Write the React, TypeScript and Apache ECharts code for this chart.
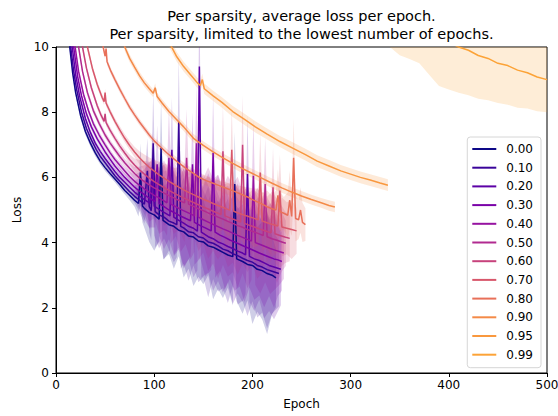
import React, { useEffect, useRef } from "react";
import * as echarts from "echarts";

// ---------- data ----------
const sparsities = ["0.00", "0.10", "0.20", "0.30", "0.40", "0.50", "0.60", "0.70", "0.80", "0.90", "0.95", "0.99"];
const colors = ["#0d0887", "#3a049a", "#5c01a6", "#7a02a8", "#9613a1", "#b12a90", "#c7427c", "#d8576b", "#e87059", "#f48a47", "#f9983e", "#fca337"];

// each row: [epoch, mean loss, std]
const s000 = [[12, 11, 0.1], [14, 10, 0.1], [17, 9.2, 0.1], [20, 8.6, 0.1], [25, 7.9, 0.1], [30, 7.4, 0.1], [35, 7.05, 0.1], [40, 6.75, 0.1], [45, 6.5, 0.1], [50, 6.3, 0.1], [55, 6.12, 0.1], [60, 5.95, 0.1], [65, 5.78, 0.12], [70, 5.6, 0.12], [75, 5.45, 0.15], [80, 5.3, 0.2], [84, 5.2, 0.4], [86, 6.15, 0.9], [88, 5.12, 0.5], [90, 5.05, 0.6], [95, 4.92, 0.9], [100, 4.85, 1.1], [105, 4.72, 0.7], [107, 6.9, 1.5], [109, 4.68, 1.2], [115, 4.55, 0.9], [120, 4.5, 1.3], [125, 4.38, 0.8], [130, 4.33, 1.4], [135, 4.2, 1.0], [140, 4.17, 1.5], [145, 4.05, 1.1], [150, 4.02, 1.3], [155, 3.9, 0.9], [160, 3.86, 1.6], [165, 3.78, 1.2], [170, 3.7, 1.4], [175, 3.62, 1.0], [180, 3.57, 1.5], [182, 5.8, 1.6], [184, 3.5, 1.3], [190, 3.42, 1.6], [195, 3.33, 1.1], [200, 3.3, 1.8], [205, 3.18, 1.3], [210, 3.14, 1.5], [215, 3.05, 1.85], [220, 3.0, 1.2], [224, 2.92, 0.9]];
const s010 = [[13, 11, 0.1], [15, 10, 0.1], [18, 9.25, 0.1], [21, 8.7, 0.1], [26, 8.0, 0.1], [31, 7.5, 0.1], [36, 7.15, 0.1], [41, 6.85, 0.1], [45, 6.65, 0.1], [50, 6.45, 0.1], [55, 6.25, 0.1], [60, 6.05, 0.1], [65, 5.88, 0.12], [70, 5.72, 0.12], [75, 5.56, 0.15], [80, 5.42, 0.2], [85, 5.3, 0.35], [90, 5.18, 0.6], [93, 6.2, 1.0], [95, 5.1, 0.8], [97, 4.98, 0.9], [99, 7.05, 1.6], [101, 4.95, 1.1], [105, 4.85, 0.8], [110, 4.78, 1.3], [115, 4.66, 0.9], [120, 4.6, 1.2], [123, 4.55, 1.0], [125, 7.7, 2.0], [127, 4.5, 1.3], [130, 4.45, 1.1], [135, 4.33, 1.5], [140, 4.3, 1.0], [145, 4.18, 1.4], [150, 4.14, 1.2], [155, 4.02, 1.7], [160, 3.98, 1.1], [165, 3.9, 1.4], [170, 3.8, 1.2], [175, 3.75, 1.6], [180, 3.66, 1.0], [185, 3.6, 1.5], [190, 3.52, 1.3], [195, 3.45, 1.7], [200, 3.4, 1.2], [205, 3.3, 1.6], [210, 3.25, 1.4], [215, 3.17, 1.8], [220, 3.12, 1.3], [227, 3.05, 1.0]];
const s020 = [[14, 11, 0.1], [16.5, 10, 0.1], [20, 9.15, 0.1], [24, 8.5, 0.1], [30, 7.8, 0.1], [35, 7.38, 0.1], [40, 7.05, 0.1], [45, 6.8, 0.1], [50, 6.58, 0.1], [55, 6.38, 0.1], [60, 6.18, 0.1], [65, 6.0, 0.12], [70, 5.85, 0.12], [75, 5.7, 0.15], [80, 5.55, 0.2], [85, 5.43, 0.4], [90, 5.32, 0.6], [96, 5.2, 0.8], [98, 6.3, 1.1], [100, 5.12, 0.9], [105, 5.02, 1.2], [110, 4.93, 0.8], [116, 4.82, 1.1], [118, 6.85, 1.6], [120, 4.78, 1.2], [125, 4.68, 0.9], [130, 4.6, 1.4], [135, 4.5, 1.0], [140, 4.44, 1.5], [144, 4.35, 1.2], [146, 9.4, 2.4], [148, 4.32, 1.4], [155, 4.18, 1.1], [160, 4.12, 1.6], [165, 4.02, 1.2], [170, 3.96, 1.5], [175, 3.88, 1.1], [180, 3.82, 1.7], [185, 3.74, 1.3], [190, 3.68, 1.5], [193, 3.62, 1.2], [195, 6.1, 1.8], [197, 3.58, 1.4], [202, 3.5, 1.6], [207, 3.45, 1.2], [212, 3.38, 1.7], [217, 3.3, 1.4], [222, 3.25, 1.6], [229, 3.18, 1.1]];
const s030 = [[15, 11, 0.1], [18, 10, 0.1], [22, 9.1, 0.1], [26, 8.5, 0.1], [31, 7.95, 0.1], [36, 7.55, 0.1], [42, 7.18, 0.1], [46, 6.98, 0.1], [50, 6.78, 0.1], [55, 6.56, 0.1], [60, 6.35, 0.1], [65, 6.17, 0.12], [70, 6.0, 0.12], [75, 5.85, 0.15], [80, 5.7, 0.2], [85, 5.58, 0.4], [90, 5.47, 0.6], [95, 5.36, 0.9], [101, 5.26, 0.8], [103, 6.4, 1.2], [105, 5.2, 1.0], [110, 5.1, 1.3], [115, 5.0, 0.9], [120, 4.93, 1.3], [125, 4.84, 1.0], [130, 4.77, 1.5], [137, 4.67, 1.1], [139, 6.4, 1.6], [141, 4.62, 1.3], [147, 4.52, 1.0], [152, 4.45, 1.5], [158, 4.36, 1.2], [160, 6.75, 1.8], [162, 4.32, 1.4], [167, 4.23, 1.1], [172, 4.16, 1.6], [177, 4.08, 1.2], [182, 4.02, 1.5], [187, 3.95, 1.3], [192, 3.88, 1.7], [197, 3.82, 1.2], [202, 3.75, 1.5], [207, 3.68, 1.3], [212, 3.62, 1.6], [217, 3.56, 1.2], [222, 3.5, 1.5], [226, 3.47, 1.1], [230, 3.42, 0.9]];
const s040 = [[16, 11, 0.1], [19.5, 10, 0.1], [23, 9.25, 0.1], [28, 8.55, 0.1], [33, 8.05, 0.1], [38, 7.65, 0.1], [44, 7.3, 0.1], [50, 7.0, 0.1], [55, 6.76, 0.1], [60, 6.55, 0.1], [65, 6.37, 0.12], [70, 6.2, 0.12], [75, 6.03, 0.15], [80, 5.88, 0.2], [85, 5.76, 0.4], [90, 5.65, 0.6], [95, 5.55, 0.9], [100, 5.45, 0.7], [105, 5.37, 1.1], [110, 5.28, 0.9], [113, 5.22, 1.0], [115, 6.6, 1.5], [117, 5.18, 1.2], [122, 5.1, 0.9], [127, 5.02, 1.3], [132, 4.95, 1.0], [137, 4.88, 1.4], [141, 4.82, 1.1], [143, 7.05, 1.8], [145, 4.78, 1.3], [150, 4.7, 1.0], [155, 4.63, 1.5], [160, 4.56, 1.2], [165, 4.49, 1.6], [170, 4.42, 1.1], [175, 4.36, 1.4], [180, 4.29, 1.2], [185, 4.22, 1.6], [190, 4.16, 1.1], [195, 4.1, 1.5], [199, 4.05, 1.2], [201, 6.05, 1.7], [203, 4.0, 1.3], [208, 3.94, 1.5], [213, 3.88, 1.1], [218, 3.82, 1.4], [223, 3.77, 1.2], [228, 3.72, 1.0], [232, 3.68, 0.8]];
const s050 = [[19, 11, 0.1], [23, 10, 0.1], [27, 9.25, 0.1], [32, 8.6, 0.1], [38, 8.05, 0.1], [44, 7.65, 0.1], [50, 7.3, 0.1], [55, 7.06, 0.1], [60, 6.85, 0.1], [65, 6.64, 0.12], [70, 6.45, 0.12], [75, 6.28, 0.15], [80, 6.12, 0.2], [85, 5.98, 0.35], [90, 5.87, 0.5], [95, 5.77, 0.7], [100, 5.68, 0.9], [105, 5.6, 0.7], [110, 5.52, 1.0], [115, 5.44, 0.8], [120, 5.37, 1.1], [125, 5.3, 0.9], [131, 5.22, 1.2], [133, 6.6, 1.5], [135, 5.18, 1.1], [140, 5.11, 0.9], [145, 5.04, 1.3], [150, 4.98, 1.0], [155, 4.91, 1.4], [160, 4.85, 1.1], [165, 4.78, 1.3], [170, 4.72, 1.0], [175, 4.65, 1.4], [180, 4.59, 1.2], [185, 4.52, 1.5], [190, 4.47, 1.1], [195, 4.4, 1.3], [200, 4.35, 1.0], [205, 4.29, 1.4], [211, 4.22, 1.1], [213, 5.8, 1.4], [215, 4.18, 1.2], [220, 4.12, 1.0], [225, 4.07, 1.3], [230, 4.02, 0.9], [234, 3.98, 0.7]];
const s060 = [[22, 11, 0.1], [27, 10, 0.1], [31, 9.35, 0.1], [36, 8.75, 0.1], [42, 8.2, 0.1], [46, 7.9, 0.1], [49, 7.72, 0.1], [50, 7.95, 0.12], [51, 7.68, 0.1], [55, 7.45, 0.1], [60, 7.2, 0.1], [65, 6.96, 0.12], [70, 6.75, 0.12], [75, 6.55, 0.15], [80, 6.38, 0.2], [85, 6.23, 0.3], [90, 6.1, 0.4], [95, 5.98, 0.5], [100, 5.87, 0.6], [105, 5.78, 0.5], [110, 5.69, 0.7], [115, 5.6, 0.6], [120, 5.52, 0.8], [125, 5.44, 0.6], [130, 5.37, 0.9], [135, 5.3, 0.7], [140, 5.23, 0.9], [145, 5.16, 0.7], [150, 5.09, 1.0], [155, 5.03, 0.8], [160, 4.96, 1.0], [165, 4.9, 0.8], [168, 4.86, 0.9], [170, 6.8, 1.4], [172, 4.82, 1.0], [177, 4.76, 0.8], [182, 4.7, 1.1], [188, 4.63, 0.9], [190, 7.0, 1.5], [192, 4.59, 1.0], [197, 4.53, 0.8], [202, 4.48, 1.1], [207, 4.42, 0.9], [212, 4.37, 1.1], [217, 4.32, 0.8], [219, 4.3, 0.9], [221, 5.7, 1.2], [223, 4.27, 0.9], [228, 4.22, 1.0], [233, 4.17, 0.8], [238, 4.13, 0.7]];
const s070 = [[27, 11, 0.1], [32, 10, 0.1], [37, 9.35, 0.1], [42, 8.85, 0.1], [47, 8.45, 0.1], [49, 8.32, 0.1], [50, 8.6, 0.12], [51, 8.28, 0.1], [55, 8.02, 0.1], [60, 7.72, 0.1], [65, 7.45, 0.12], [70, 7.2, 0.12], [75, 6.98, 0.14], [80, 6.78, 0.16], [85, 6.6, 0.2], [90, 6.45, 0.25], [95, 6.31, 0.3], [100, 6.19, 0.35], [105, 6.08, 0.4], [110, 5.98, 0.45], [115, 5.88, 0.5], [120, 5.79, 0.5], [125, 5.7, 0.6], [130, 5.62, 0.55], [135, 5.54, 0.65], [140, 5.47, 0.6], [145, 5.4, 0.7], [150, 5.33, 0.6], [155, 5.27, 0.75], [160, 5.2, 0.65], [165, 5.14, 0.8], [170, 5.08, 0.7], [175, 5.02, 0.8], [177, 5.0, 0.8], [179, 6.85, 1.3], [181, 4.96, 0.9], [186, 4.9, 0.7], [191, 4.85, 0.9], [196, 4.8, 0.7], [201, 4.75, 0.9], [206, 4.7, 0.8], [208, 6.15, 1.2], [210, 4.66, 0.9], [215, 4.61, 0.8], [220, 4.56, 1.0], [226, 4.51, 0.8], [228, 5.6, 1.1], [230, 4.48, 0.9], [235, 4.44, 0.8], [240, 4.4, 0.9], [245, 4.36, 0.7]];
const s080 = [[44, 11, 0.1], [48, 10, 0.1], [50, 9.72, 0.1], [51, 9.95, 0.12], [52, 9.55, 0.1], [56, 9.25, 0.1], [60, 9.0, 0.1], [65, 8.7, 0.1], [70, 8.42, 0.1], [75, 8.15, 0.1], [80, 7.92, 0.1], [85, 7.7, 0.1], [90, 7.5, 0.1], [95, 7.3, 0.1], [100, 7.12, 0.1], [106, 6.95, 0.12], [113, 6.75, 0.12], [120, 6.57, 0.12], [126, 6.42, 0.13], [133, 6.26, 0.13], [140, 6.12, 0.14], [147, 5.98, 0.15], [153, 5.9, 0.15], [160, 5.82, 0.15], [167, 5.74, 0.16], [174, 5.66, 0.18], [181, 5.58, 0.2], [188, 5.49, 0.25], [195, 5.4, 0.3], [200, 5.32, 0.35], [205, 5.25, 0.4], [210, 5.18, 0.35], [215, 5.1, 0.5], [220, 5.04, 0.4], [224, 5.0, 0.6], [226, 5.45, 0.8], [228, 4.95, 0.6], [232, 4.9, 0.5], [236, 4.84, 0.7], [238, 5.3, 0.9], [240, 4.8, 0.6], [242, 6.6, 1.2], [244, 4.74, 0.7], [247, 4.7, 0.6], [249, 5.0, 0.7], [251, 4.62, 0.6], [254, 4.55, 0.5]];
const s090 = [[66, 11, 0.12], [70, 10, 0.12], [75, 9.65, 0.12], [80, 9.38, 0.12], [85, 9.12, 0.12], [90, 8.9, 0.12], [95, 8.72, 0.12], [99, 8.58, 0.12], [101, 8.75, 0.14], [103, 8.48, 0.12], [108, 8.28, 0.12], [115, 8.02, 0.12], [122, 7.8, 0.12], [130, 7.55, 0.13], [140, 7.2, 0.13], [150, 6.98, 0.13], [160, 6.78, 0.13], [170, 6.6, 0.13], [180, 6.43, 0.14], [190, 6.27, 0.14], [200, 6.12, 0.14], [210, 5.97, 0.14], [220, 5.82, 0.15], [230, 5.68, 0.15], [240, 5.55, 0.15], [250, 5.43, 0.15], [260, 5.32, 0.15], [270, 5.22, 0.15], [278, 5.14, 0.16], [284, 5.09, 0.16]];
const s095 = [[110, 10.4, 0.15], [116, 10.1, 0.15], [123, 9.7, 0.15], [130, 9.4, 0.15], [137, 9.15, 0.15], [144, 8.9, 0.16], [147, 8.82, 0.16], [149, 9.0, 0.18], [151, 8.72, 0.16], [160, 8.5, 0.16], [169, 8.3, 0.16], [180, 8.02, 0.17], [192, 7.78, 0.17], [203, 7.55, 0.17], [215, 7.33, 0.17], [228, 7.1, 0.17], [241, 6.9, 0.18], [254, 6.7, 0.18], [266, 6.5, 0.18], [278, 6.35, 0.18], [290, 6.2, 0.18], [300, 6.1, 0.18], [310, 6.0, 0.18], [320, 5.92, 0.18], [330, 5.83, 0.18], [338, 5.76, 0.18]];
const s099 = [[330, 11.3, 1.2], [340, 11.1, 1.1], [350, 10.95, 1.2], [360, 10.78, 1.15], [370, 10.6, 1.1], [380, 10.45, 1.3], [390, 10.3, 1.5], [400, 10.15, 1.45], [410, 10.0, 1.4], [420, 9.9, 1.38], [430, 9.74, 1.33], [440, 9.65, 1.28], [450, 9.5, 1.22], [460, 9.43, 1.2], [470, 9.29, 1.15], [480, 9.21, 1.1], [490, 9.08, 1.05], [500, 9.0, 1.0]];

const runs = [s000, s010, s020, s030, s040, s050, s060, s070, s080, s090, s095, s099];

const FONT = "DejaVu Sans";

function bandSeries(run: number[][], color: string, name: string) {
  return {
    name,
    type: "custom",
    clip: true,
    silent: true,
    z: 1,
    encode: { x: 0, y: 1 },
    data: run,
    renderItem: (params: any, api: any) => {
      if (params.dataIndex !== 0) return null;
      const upper = run.map((r) => api.coord([r[0], r[1] + r[2]]));
      const lower = run
        .slice()
        .reverse()
        .map((r) => api.coord([r[0], r[1] - r[2]]));
      return {
        type: "polygon",
        shape: { points: upper.concat(lower) },
        style: { fill: color, opacity: 0.2 },
        silent: true,
      };
    },
  };
}

function buildOption() {
  const series: any[] = [];
  runs.forEach((run, i) => {
    series.push(bandSeries(run, colors[i], sparsities[i] + " band"));
  });
  runs.forEach((run, i) => {
    const c = colors[i];
    series.push({
      name: sparsities[i],
      type: "line",
      color: c,
      data: run.map((r) => [r[0], r[1]]),
      symbol: "none",
      lineStyle: { width: 1.5, color: c },
      itemStyle: { color: c },
      z: 2,
    });
  });

  return {
    animation: false,
    backgroundColor: "#ffffff",
    textStyle: { fontFamily: FONT },
    grid: {
      left: 56,
      right: 11,
      top: 47,
      bottom: 43,
      outerBoundsMode: "none",
      containLabel: false,
      show: true,
      borderColor: "#000",
      borderWidth: 1,
      backgroundColor: "transparent",
    },
    graphic: [
      {
        type: "text",
        x: 301.5,
        y: 16,
        style: {
          text: "Per sparsity, average loss per epoch.",
          fontSize: 14.5,
          fontFamily: FONT,
          fill: "#000",
          align: "center",
          verticalAlign: "middle",
        },
      },
      {
        type: "text",
        x: 301.5,
        y: 34,
        style: {
          text: "Per sparsity, limited to the lowest number of epochs.",
          fontSize: 14.5,
          fontFamily: FONT,
          fill: "#000",
          align: "center",
          verticalAlign: "middle",
        },
      },
    ],
    legend: {
      data: sparsities,
      orient: "vertical",
      right: 17,
      top: 137,
      icon: "rect",
      itemWidth: 24,
      itemHeight: 2,
      itemGap: 4.7,
      padding: [5, 8, 6, 5],
      backgroundColor: "rgba(255,255,255,0.8)",
      borderColor: "#d6d6d6",
      borderWidth: 1,
      borderRadius: 3,
      z: 10,
      textStyle: { fontFamily: FONT, fontSize: 12, color: "#000", lineHeight: 14, padding: [0, 0, 0, 5] },
    },
    xAxis: {
      type: "value",
      min: 0,
      max: 500,
      interval: 100,
      name: "Epoch",
      nameLocation: "middle",
      nameGap: 25,
      nameTextStyle: { fontFamily: FONT, fontSize: 12, color: "#000" },
      splitLine: { show: false },
      axisLine: { show: true, lineStyle: { color: "#000", width: 1 } },
      axisTick: { show: true, length: 4, lineStyle: { color: "#000" } },
      axisLabel: { fontFamily: FONT, fontSize: 12, color: "#000", margin: 6 },
    },
    yAxis: {
      type: "value",
      min: 0,
      max: 10,
      interval: 2,
      name: "Loss",
      nameLocation: "middle",
      nameGap: 31,
      nameRotate: 90,
      nameTextStyle: { fontFamily: FONT, fontSize: 12, color: "#000" },
      splitLine: { show: false },
      axisLine: { show: true, lineStyle: { color: "#000", width: 1 } },
      axisTick: { show: true, length: 4, lineStyle: { color: "#000" } },
      axisLabel: { fontFamily: FONT, fontSize: 12, color: "#000", margin: 7 },
    },
    series,
  };
}

export default function App() {
  const ref = useRef<HTMLDivElement>(null);
  useEffect(() => {
    document.body.style.margin = "0";
    if (!ref.current) return;
    const chart = echarts.init(ref.current, undefined, { renderer: "svg" });
    chart.setOption(buildOption() as any);
    return () => {
      chart.dispose();
    };
  }, []);
  return <div ref={ref} style={{ width: 558, height: 416 }} />;
}
